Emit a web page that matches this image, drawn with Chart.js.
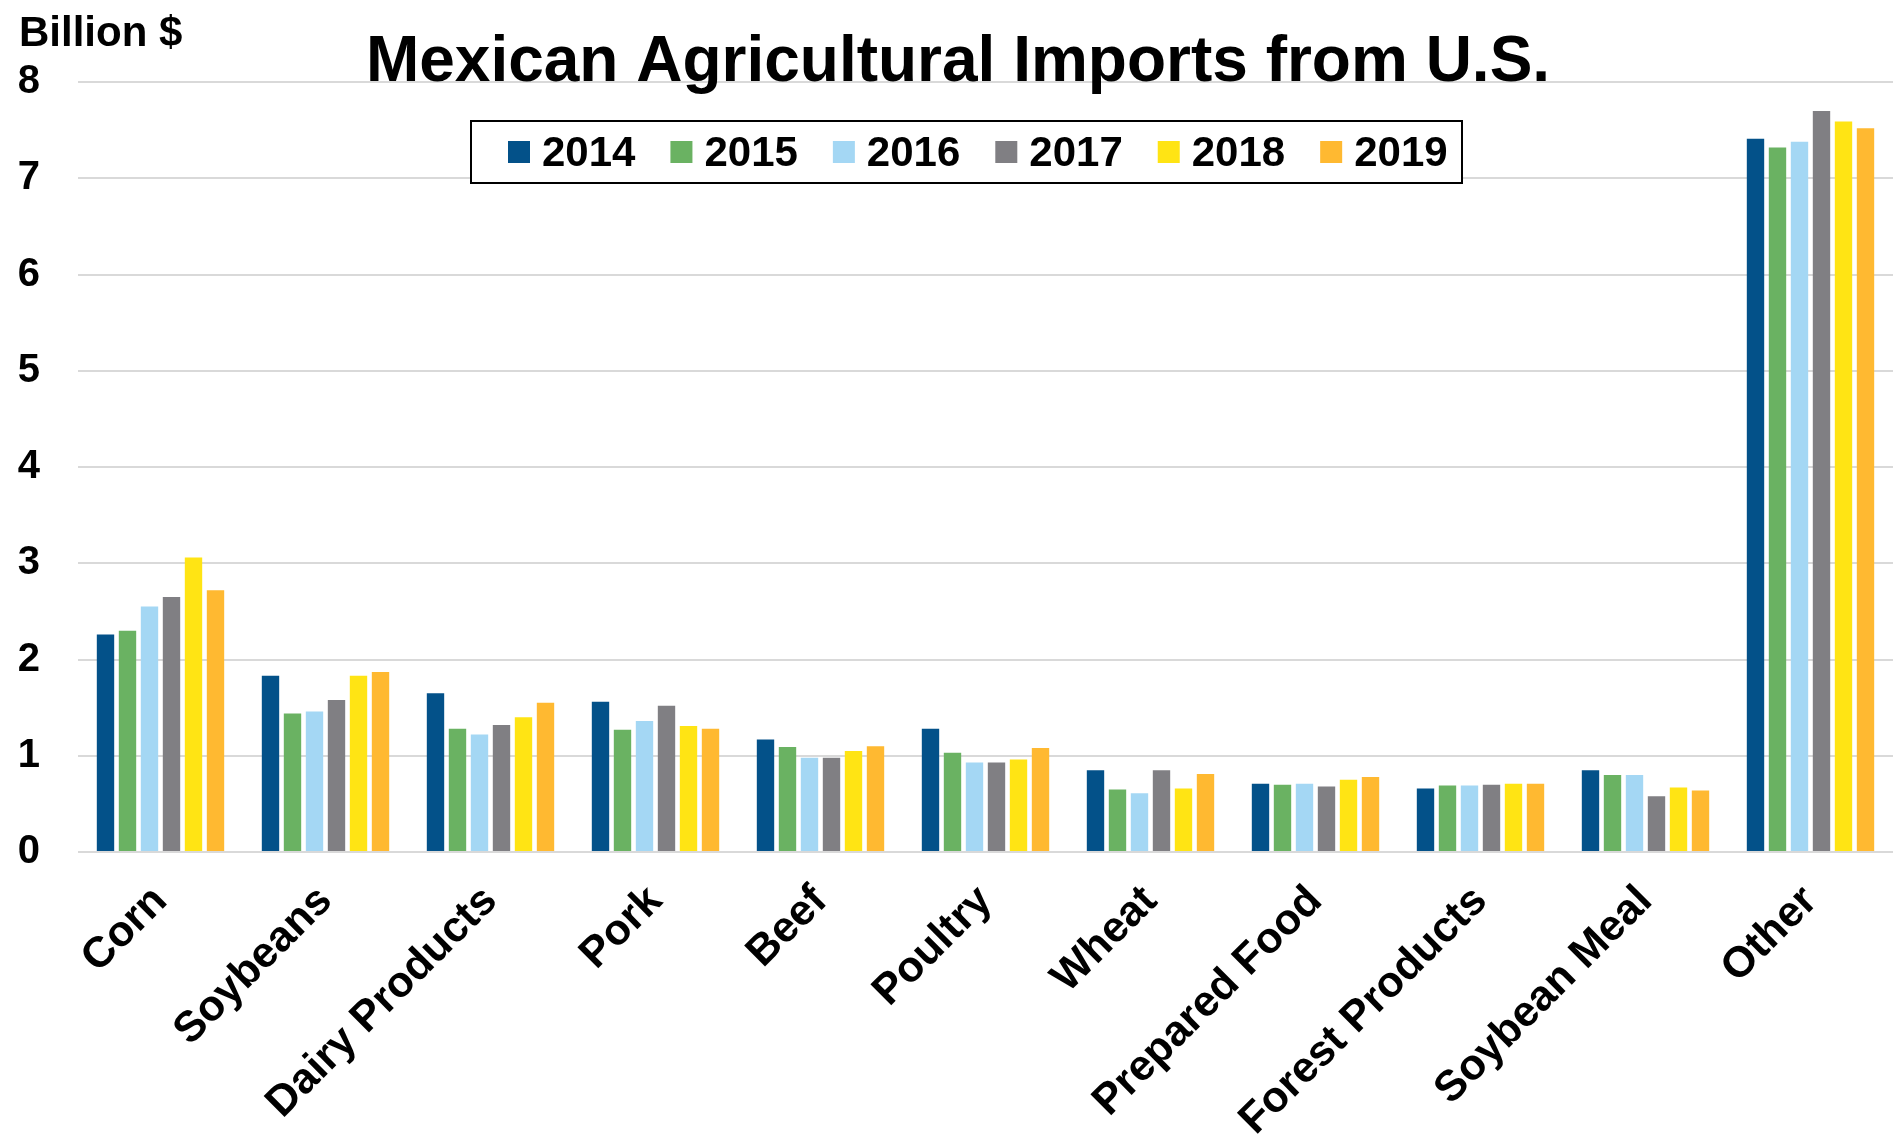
<!DOCTYPE html>
<html>
<head>
<meta charset="utf-8">
<script src="https://cdn.jsdelivr.net/npm/chart.js@4/dist/chart.umd.min.js"></script>
<style>
  html, body { margin: 0; padding: 0; background: #fff; }
  #wrap { width: 1895px; height: 1138px; }
</style>
</head>
<body>
<div id="wrap"><canvas id="importsChart" width="1895" height="1138"></canvas></div>
<script>
const categories = ["Corn", "Soybeans", "Dairy Products", "Pork", "Beef", "Poultry",
    "Wheat", "Prepared Food", "Forest Products", "Soybean Meal", "Other"];
const years = ["2014", "2015", "2016", "2017", "2018", "2019"];
const colors = ["#035189", "#6AB262", "#A4D7F4", "#807F83", "#FFE414", "#FFB931"];

const v2014 = [2.26, 1.83, 1.65, 1.56, 1.17, 1.28, 0.85, 0.71, 0.66, 0.85, 7.41];
const v2015 = [2.30, 1.44, 1.28, 1.27, 1.09, 1.03, 0.65, 0.70, 0.69, 0.80, 7.32];
const v2016 = [2.55, 1.46, 1.22, 1.36, 0.98, 0.93, 0.61, 0.71, 0.69, 0.80, 7.38];
const v2017 = [2.65, 1.58, 1.32, 1.52, 0.98, 0.93, 0.85, 0.68, 0.70, 0.58, 7.70];
const v2018 = [3.06, 1.83, 1.40, 1.31, 1.05, 0.96, 0.66, 0.75, 0.71, 0.67, 7.59];
const v2019 = [2.72, 1.87, 1.55, 1.28, 1.10, 1.08, 0.81, 0.78, 0.71, 0.64, 7.52];
const seriesValues = [v2014, v2015, v2016, v2017, v2018, v2019];

const yTicks = [0, 1, 2, 3, 4, 5, 6, 7, 8];

const FONT = "'Liberation Sans', Arial, sans-serif";

// title, unit label and boxed legend drawn on top of the plot
const overlay = {
    id: "overlay",
    afterDraw(chart) {
        const ctx = chart.ctx;
        ctx.save();
        ctx.fillStyle = "#000";
        ctx.textBaseline = "alphabetic";

        ctx.font = "bold 64px " + FONT;
        ctx.textAlign = "center";
        ctx.fillText("Mexican Agricultural Imports from U.S.", 958, 81);

        ctx.font = "bold 42px " + FONT;
        ctx.textAlign = "left";
        ctx.fillText("Billion $", 19, 46);

        // legend
        const box = { left: 471, top: 121, width: 991, height: 62 };
        ctx.fillStyle = "#fff";
        ctx.fillRect(box.left, box.top, box.width, box.height);
        ctx.strokeStyle = "#000";
        ctx.lineWidth = 2;
        ctx.strokeRect(box.left, box.top, box.width, box.height);

        ctx.font = "bold 42px " + FONT;
        ctx.textBaseline = "middle";
        const sw = 22, gap = 12, spacing = 35;
        let x = box.left + 37;
        const cy = box.top + box.height / 2;
        chart.data.datasets.forEach(ds => {
            ctx.fillStyle = ds.backgroundColor;
            ctx.fillRect(x, cy - sw / 2, sw, sw);
            ctx.fillStyle = "#000";
            ctx.fillText(ds.label, x + sw + gap, cy + 2);
            x += sw + gap + ctx.measureText(ds.label).width + spacing;
        });
        ctx.restore();
    }
};

const ctx = document.getElementById("importsChart").getContext("2d");

new Chart(ctx, {
    type: "bar",
    data: {
        labels: categories,
        datasets: years.map((y, i) => ({
            label: y,
            data: seriesValues[i],
            backgroundColor: colors[i],
            borderWidth: 0,
            barPercentage: 0.79,
            categoryPercentage: 0.8
        }))
    },
    options: {
        responsive: false,
        animation: false,
        layout: { padding: { top: 82, right: 2, left: 0, bottom: 0 } },
        plugins: {
            legend: { display: false },
            title: { display: false },
            tooltip: { enabled: false }
        },
        scales: {
            x: {
                grid: { display: false },
                border: { display: false },
                ticks: {
                    color: "#000",
                    font: { family: FONT, size: 43, weight: "bold" },
                    minRotation: 45,
                    maxRotation: 45,
                    autoSkip: false,
                    padding: 16
                },
                afterFit(scale) { scale.height = 286; }
            },
            y: {
                min: 0,
                max: 8,
                afterBuildTicks(scale) { scale.ticks = yTicks.map(v => ({ value: v })); },
                grid: { color: "#D9D9D9", lineWidth: 2, drawTicks: false },
                border: { display: false },
                ticks: {
                    color: "#000",
                    font: { family: FONT, size: 40, weight: "bold" },
                    padding: 38
                },
                afterFit(scale) { scale.width = 78; }
            }
        }
    },
    plugins: [overlay]
});
</script>
</body>
</html>
